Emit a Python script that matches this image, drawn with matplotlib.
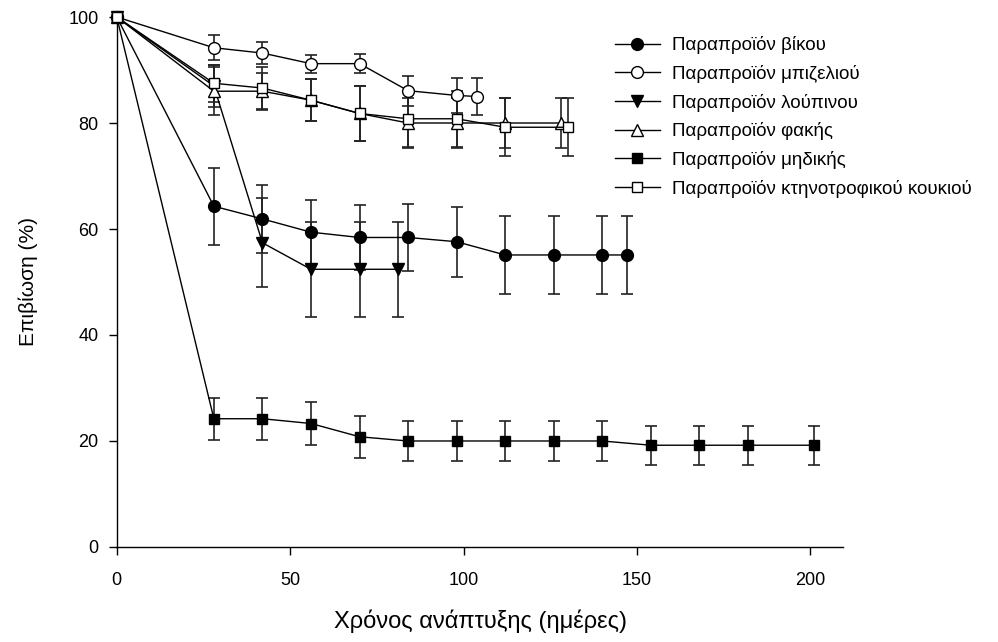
import matplotlib
matplotlib.use("Agg")
import matplotlib.pyplot as plt

plt.rcParams["font.family"] = ["Liberation Sans", "DejaVu Sans"]

# survival (%) of larvae on each by-product, mean and error
vetch_days = [0, 28, 42, 56, 70, 84, 98, 112, 126, 140, 147]
vetch_surv = [100, 64.3, 61.9, 59.4, 58.4, 58.4, 57.6, 55.1, 55.1, 55.1, 55.1]
vetch_err = [0, 7.3, 6.4, 6.0, 6.2, 6.3, 6.6, 7.4, 7.4, 7.4, 7.4]

pea_days = [0, 28, 42, 56, 70, 84, 98, 104]
pea_surv = [100, 94.2, 93.2, 91.2, 91.2, 86.1, 85.2, 85.0]
pea_err = [0, 2.4, 2.0, 1.7, 1.8, 2.8, 3.3, 3.5]

lupin_days = [0, 28, 42, 56, 70, 81]
lupin_surv = [100, 87.0, 57.4, 52.4, 52.4, 52.4]
lupin_err = [0, 4.0, 8.4, 9.0, 9.0, 9.0]

lentil_days = [0, 28, 42, 56, 70, 84, 98, 112, 128]
lentil_surv = [100, 86.0, 86.0, 84.3, 81.8, 80.0, 80.0, 80.0, 80.0]
lentil_err = [0, 4.5, 3.5, 4.0, 5.2, 4.8, 4.8, 4.8, 4.8]

alfalfa_days = [0, 28, 42, 56, 70, 84, 98, 112, 126, 140, 154, 168, 182, 201]
alfalfa_surv = [100, 24.2, 24.2, 23.3, 20.8, 20.0, 20.0, 20.0, 20.0, 20.0, 19.2, 19.2, 19.2, 19.2]
alfalfa_err = [0, 4.0, 4.0, 4.0, 4.0, 3.7, 3.7, 3.7, 3.7, 3.7, 3.7, 3.7, 3.7, 3.7]

bean_days = [0, 28, 42, 56, 70, 84, 98, 112, 130]
bean_surv = [100, 87.5, 86.6, 84.3, 81.8, 80.8, 80.8, 79.2, 79.2]
bean_err = [0, 3.5, 4.0, 4.0, 5.2, 5.3, 5.3, 5.5, 5.5]

series = [
    ("Παραπροϊόν βίκου", vetch_days, vetch_surv, vetch_err, "o", "black"),
    ("Παραπροϊόν μπιζελιού", pea_days, pea_surv, pea_err, "o", "white"),
    ("Παραπροϊόν λούπινου", lupin_days, lupin_surv, lupin_err, "v", "black"),
    ("Παραπροϊόν φακής", lentil_days, lentil_surv, lentil_err, "^", "white"),
    ("Παραπροϊόν μηδικής", alfalfa_days, alfalfa_surv, alfalfa_err, "s", "black"),
    ("Παραπροϊόν κτηνοτροφικού κουκιού", bean_days, bean_surv, bean_err, "s", "white"),
]

fig = plt.figure(figsize=(9.98, 6.42), dpi=100)
ax = fig.add_axes([0.117, 0.148, 0.728, 0.8255])

handles = []
for label, x, y, err, marker, face in series:
    ms = 8.5 if marker in ("o", "v", "^") else 7.5
    ax.errorbar(x, y, yerr=err, fmt="none", ecolor="#222222", elinewidth=1.2,
                capsize=4, capthick=1.2, zorder=2, clip_on=False)
    h, = ax.plot(x, y, color="black", lw=1.0, marker=marker, ms=ms,
                 mfc=face, mec="black", mew=1.0, zorder=3, clip_on=False,
                 label=label)
    handles.append(h)

ax.set_xlim(0, 209.5)
ax.set_ylim(0, 100)
ax.set_xticks([0, 50, 100, 150, 200])
ax.set_yticks([0, 20, 40, 60, 80, 100])
ax.spines["top"].set_visible(False)
ax.spines["right"].set_visible(False)
for s in ("left", "bottom"):
    ax.spines[s].set_linewidth(1.0)
ax.tick_params(direction="out", length=6, width=1.0, labelsize=13, pad=7)
ax.tick_params(axis="x", pad=12)

ax.set_xlabel("Χρόνος ανάπτυξης (ημέρες)", fontsize=17, labelpad=15)
ax.set_ylabel("Επιβίωση (%)", fontsize=15, labelpad=22)

leg = ax.legend(handles=handles, loc="upper left", bbox_to_anchor=(0.675, 0.978),
                frameon=False, fontsize=13.5, handlelength=2.4, handletextpad=0.65,
                labelspacing=0.57, borderaxespad=0)

fig.savefig("out.png", dpi=100)
